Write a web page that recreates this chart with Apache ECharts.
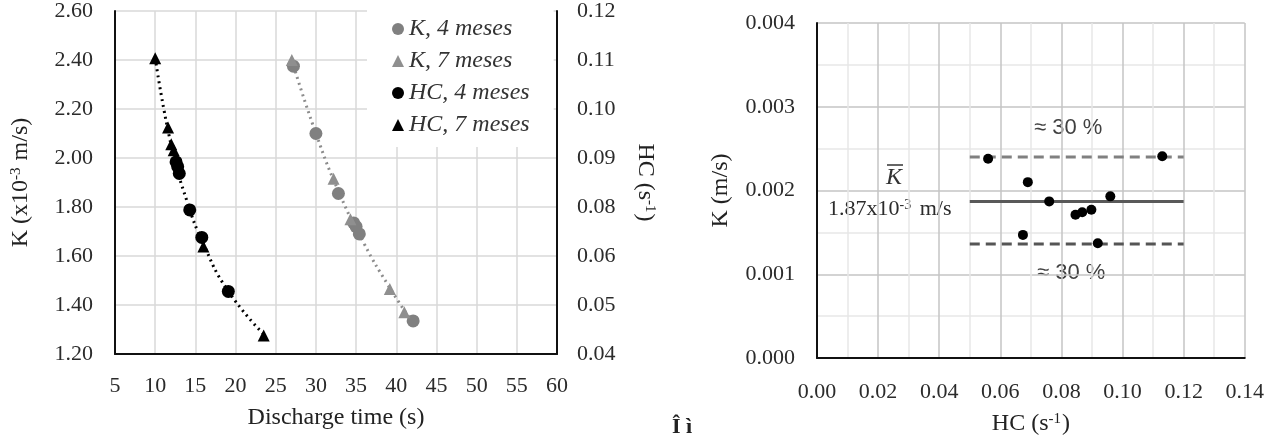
<!DOCTYPE html>
<html>
<head>
<meta charset="utf-8">
<script src="https://cdn.jsdelivr.net/npm/echarts@6/dist/echarts.min.js"></script>
<style>
  html, body { margin: 0; padding: 0; background: #fff; }
  #chart { width: 1267px; height: 444px; }
</style>
</head>
<body>
<div id="chart"></div>
<script>
// left panel: discharge time (s) vs K (x10^-3 m/s) and HC (s^-1)
const k4Time = [27.2, 30.0, 32.8, 34.7, 35.0, 35.4, 42.1];
const k4Val = [2.375, 2.10, 1.855, 1.735, 1.72, 1.69, 1.335];
const k7Time = [27.0, 32.2, 34.3, 39.2, 41.0];
const k7Val = [2.40, 1.915, 1.75, 1.465, 1.37];
const hc4Time = [12.6, 12.8, 13.0, 14.3, 15.8, 19.1];
const hc4Val = [0.0848, 0.0837, 0.0821, 0.0736, 0.0672, 0.0546];
const hc7Time = [10.0, 11.6, 12.0, 12.3, 16.0, 23.5];
const hc7Val = [0.1090, 0.0928, 0.0889, 0.0875, 0.0651, 0.0443];
// dotted trend lines
const kTrendTime = [27.0, 30.0, 33.0, 36.0, 39.0, 42.0];
const kTrendVal = [2.40, 2.10, 1.85, 1.65, 1.48, 1.33];
const hcTrendTime = [10.0, 12.0, 14.0, 16.0, 19.0, 23.5];
const hcTrendVal = [0.1091, 0.0886, 0.0754, 0.0657, 0.0549, 0.0446];
// right-hand tick labels as printed
const hcTicks = ['0.04', '0.05', '0.06', '0.08', '0.09', '0.10', '0.11', '0.12'];

// right panel: HC (s^-1) vs K (m/s)
const scatterHC = [0.056, 0.069, 0.076, 0.0846, 0.0868, 0.0898, 0.096, 0.113, 0.0674, 0.0919];
const scatterK = [0.00238, 0.0021, 0.00187, 0.00171, 0.00174, 0.00177, 0.00193, 0.00241, 0.00147, 0.00137];
const bandHC = [0.05, 0.12];
const kMean = 0.00187;
const kUpper = 0.0024;
const kLower = 0.00136;

const zip = (xs, ys) => xs.map((x, i) => [x, ys[i]]);
const serif = 'Liberation Serif';
const tickFont = { fontFamily: serif, fontSize: 22, color: '#2b2b2b' };
const supRich = {
  a: { fontFamily: serif, fontSize: 24, color: '#222' },
  s: { fontFamily: serif, fontSize: 15, color: '#222', padding: [0, 1, 9, 0] }
};
const titleFont = { fontFamily: serif, fontSize: 24, color: '#222', rich: supRich };
const hcStep = (0.12 - 0.04) / 7;
const hcTickPos = hcTicks.map((t, i) => 0.04 + i * hcStep);

const chart = echarts.init(document.getElementById('chart'));
chart.setOption({
  animation: false,
  grid: [
    { left: 115, right: 710, top: 4, bottom: 90 },
    { left: 817, right: 18, top: 23, bottom: 86 }
  ],
  legend: {
    data: ['K, 4 meses', 'K, 7 meses', 'HC, 4 meses', 'HC, 7 meses'],
    orient: 'vertical',
    left: 367,
    top: 4,
    padding: [13, 24, 10, 25],
    itemWidth: 12,
    itemHeight: 12,
    itemGap: 8,
    backgroundColor: '#fff',
    textStyle: { fontFamily: serif, fontStyle: 'italic', fontSize: 24, color: '#333' }
  },
  xAxis: [
    {
      gridIndex: 0, type: 'value', min: 5, max: 60, interval: 5,
      name: 'Discharge time (s)', nameLocation: 'middle', nameGap: 52, nameTextStyle: titleFont,
      axisLine: { lineStyle: { color: '#111', width: 2 } },
      axisTick: { show: false },
      axisLabel: Object.assign({ margin: 21 }, tickFont),
      splitLine: { lineStyle: { color: '#d9d9d9', width: 1.5 } }
    },
    {
      gridIndex: 1, type: 'value', min: 0, max: 0.14, interval: 0.02,
      name: '{a|HC (s}{s|-1}{a|)}', nameLocation: 'middle', nameGap: 54, nameTextStyle: titleFont,
      axisLine: { lineStyle: { color: '#111', width: 2 } },
      axisTick: { show: false },
      axisLabel: Object.assign({ margin: 23, formatter: v => v.toFixed(2) }, tickFont),
      splitLine: { lineStyle: { color: '#c4c4c4', width: 1.5 } },
      minorTick: { show: false, splitNumber: 2 },
      minorSplitLine: { show: true, lineStyle: { color: '#e8e8e8', width: 1.5 } }
    }
  ],
  yAxis: [
    {
      gridIndex: 0, type: 'value', min: 1.2, max: 2.6, interval: 0.2,
      name: '{a|K (x10}{s|-3}{a| m/s)}', nameLocation: 'middle', nameGap: 82, nameTextStyle: titleFont,
      axisLine: { show: true, lineStyle: { color: '#111', width: 2 } },
      axisTick: { show: false },
      axisLabel: Object.assign({ margin: 22, formatter: v => v.toFixed(2) }, tickFont),
      splitLine: { lineStyle: { color: '#d9d9d9', width: 1.5 } }
    },
    {
      gridIndex: 0, type: 'value', position: 'right', min: 0.04, max: 0.12,
      name: '{a|HC (s}{s|-1}{a|)}', nameLocation: 'middle', nameGap: 76, nameRotate: -90, nameTextStyle: titleFont,
      axisLine: { show: true, lineStyle: { color: '#111', width: 2 } },
      axisTick: { show: false },
      axisLabel: Object.assign({
        margin: 20,
        customValues: hcTickPos,
        formatter: v => hcTicks[Math.round((v - 0.04) / hcStep)]
      }, tickFont),
      splitLine: { show: false }
    },
    {
      gridIndex: 1, type: 'value', min: 0, max: 0.004, interval: 0.001,
      name: 'K (m/s)', nameLocation: 'middle', nameGap: 84, nameTextStyle: titleFont,
      axisLine: { show: true, lineStyle: { color: '#111', width: 2 } },
      axisTick: { show: false },
      axisLabel: Object.assign({ margin: 22, formatter: v => v.toFixed(3) }, tickFont),
      splitLine: { lineStyle: { color: '#c4c4c4', width: 1.5 } },
      minorTick: { show: false, splitNumber: 2 },
      minorSplitLine: { show: true, lineStyle: { color: '#e8e8e8', width: 1.5 } }
    }
  ],
  series: [
    {
      type: 'line', xAxisIndex: 0, yAxisIndex: 0, data: zip(kTrendTime, kTrendVal),
      smooth: true, symbol: 'none', silent: true,
      lineStyle: { color: '#8c8c8c', width: 3, type: [2, 4] }, z: 2
    },
    {
      type: 'line', xAxisIndex: 0, yAxisIndex: 1, data: zip(hcTrendTime, hcTrendVal),
      smooth: true, symbol: 'none', silent: true,
      lineStyle: { color: '#000', width: 3, type: [2, 4] }, z: 2
    },
    {
      name: 'K, 4 meses', type: 'scatter', xAxisIndex: 0, yAxisIndex: 0,
      data: zip(k4Time, k4Val), symbol: 'circle', symbolSize: 13,
      itemStyle: { color: '#808080', opacity: 1 }, z: 3
    },
    {
      name: 'K, 7 meses', type: 'scatter', xAxisIndex: 0, yAxisIndex: 0,
      data: zip(k7Time, k7Val), symbol: 'triangle', symbolSize: 12,
      itemStyle: { color: '#8f8f8f', opacity: 1 }, z: 3
    },
    {
      name: 'HC, 4 meses', type: 'scatter', xAxisIndex: 0, yAxisIndex: 1,
      data: zip(hc4Time, hc4Val), symbol: 'circle', symbolSize: 13,
      itemStyle: { color: '#000', opacity: 1 }, z: 4
    },
    {
      name: 'HC, 7 meses', type: 'scatter', xAxisIndex: 0, yAxisIndex: 1,
      data: zip(hc7Time, hc7Val), symbol: 'triangle', symbolSize: 12,
      itemStyle: { color: '#000', opacity: 1 }, z: 4
    },
    {
      type: 'line', xAxisIndex: 1, yAxisIndex: 2, symbol: 'none', silent: true,
      data: bandHC.map(x => [x, kUpper]),
      lineStyle: { color: '#808080', width: 3, type: [10, 6] }, z: 2
    },
    {
      type: 'line', xAxisIndex: 1, yAxisIndex: 2, symbol: 'none', silent: true,
      data: bandHC.map(x => [x, kLower]),
      lineStyle: { color: '#555', width: 3, type: [10, 6] }, z: 2
    },
    {
      type: 'line', xAxisIndex: 1, yAxisIndex: 2, symbol: 'none', silent: true,
      data: bandHC.map(x => [x, kMean]),
      lineStyle: { color: '#595959', width: 3 }, z: 2
    },
    {
      type: 'scatter', xAxisIndex: 1, yAxisIndex: 2,
      data: zip(scatterHC, scatterK), symbol: 'circle', symbolSize: 10,
      itemStyle: { color: '#000', opacity: 1 }, z: 4
    }
  ],
  graphic: [
    { type: 'text', left: 1034, top: 117, style: { text: '≈ 30 %', font: '22px "Liberation Sans"', fill: '#404040' } },
    { type: 'text', left: 1037, top: 262, style: { text: '≈ 30 %', font: '22px "Liberation Sans"', fill: '#404040' } },
    { type: 'text', left: 886, top: 166, style: { text: 'K', font: 'italic 24px "Liberation Serif"', fill: '#333' } },
    { type: 'line', shape: { x1: 887, y1: 165, x2: 903, y2: 165 }, style: { stroke: '#333', lineWidth: 1.5 } },
    {
      type: 'text', left: 828, top: 198,
      style: {
        text: '{a|1.87x10}{s|-3}{a| m/s}',
        rich: {
          a: { fontFamily: serif, fontSize: 22, fill: '#2b2b2b' },
          s: { fontFamily: serif, fontSize: 14, fill: '#2b2b2b', padding: [0, 3, 9, 0] }
        }
      }
    },
    { type: 'text', left: 672, top: 416, style: { text: 'Î ì', font: 'bold 22px "Liberation Serif"', fill: '#222' } }
  ]
});
</script>
</body>
</html>
